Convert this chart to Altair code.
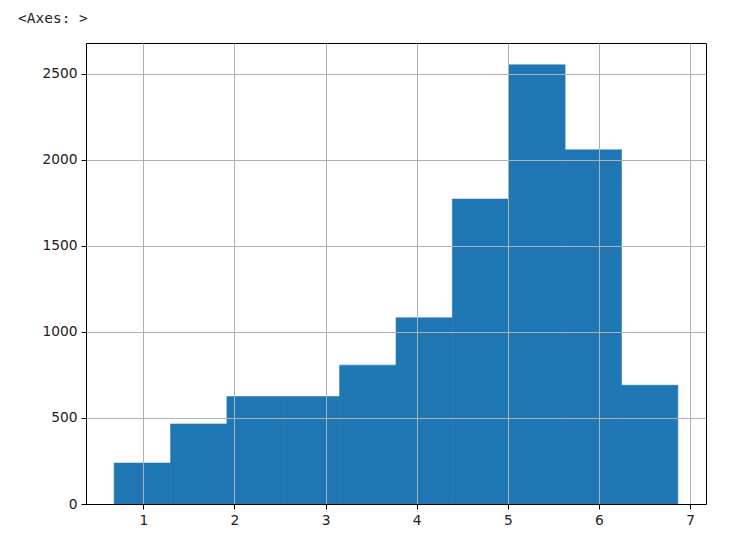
import altair as alt
import pandas as pd

bin_start = [0.680, 1.299, 1.917, 2.536, 3.154, 3.773, 4.391, 5.010, 5.628, 6.247]
bin_end = [1.299, 1.917, 2.536, 3.154, 3.773, 4.391, 5.010, 5.628, 6.247, 6.865]
counts = [238, 465, 624, 624, 807, 1082, 1772, 2552, 2058, 690]

df = pd.DataFrame({"start": bin_start, "end": bin_end, "count": counts})

x_ticks = [1, 2, 3, 4, 5, 6, 7]
y_ticks = [0, 500, 1000, 1500, 2000, 2500]

axis_common = dict(
    grid=True, gridColor="#b0b0b0", gridWidth=1,
    domainColor="black", domainWidth=1,
    tickColor="black", tickSize=5, tickWidth=1,
    labelFont="DejaVu Sans", labelFontSize=13.8, labelColor="#222222",
    labelPadding=4, title=None, zindex=1,
)

bars = alt.Chart(df).mark_rect(color="#1f77b4", stroke="#1f77b4", strokeWidth=0.6).encode(
    x=alt.X("start:Q",
            scale=alt.Scale(domain=[0.371, 7.174], nice=False, zero=False),
            axis=alt.Axis(values=x_ticks, format="d", **axis_common)),
    x2="end:Q",
    y=alt.Y("count:Q",
            scale=alt.Scale(domain=[0, 2679], nice=False),
            axis=alt.Axis(values=y_ticks, format="d", **axis_common)),
    y2=alt.datum(0),
)

label = alt.Chart(pd.DataFrame({"t": ["<Axes: >"]})).mark_text(
    font="DejaVu Sans Mono", fontSize=14.5, align="left", baseline="alphabetic",
    color="#222222",
).encode(x=alt.value(-68), y=alt.value(-20), text="t:N")

chart = alt.layer(bars, label).properties(
    width=620, height=461,
    autosize=alt.AutoSizeParams(type="none"),
    padding={"left": 78, "top": 35, "right": 10, "bottom": 30},
).configure_view(stroke="black", strokeWidth=1)

chart.save("out.html", embed_options={"renderer": "svg", "actions": False})
